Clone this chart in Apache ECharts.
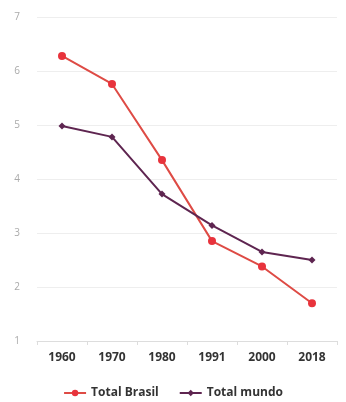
<!DOCTYPE html>
<html lang="pt">
<head>
    <meta charset="UTF-8">
    <title>Taxa de fecundidade</title>
    <script src="https://cdn.jsdelivr.net/npm/echarts@6/dist/echarts.min.js"></script>
    <style>
        html, body { margin: 0; padding: 0; background: #fff; }
        #chart { width: 346px; height: 402px; }
    </style>
</head>
<body>
<div id="chart"></div>
<script>
    const anos = ['1960', '1970', '1980', '1991', '2000', '2018'];
    const totalBrasil = [6.28, 5.76, 4.35, 2.85, 2.38, 1.7];
    const totalMundo = [4.98, 4.78, 3.72, 3.14, 2.65, 2.5];

    const chart = echarts.init(document.getElementById('chart'));

    chart.setOption({
        animation: false,
        textStyle: { fontFamily: 'Open Sans' },
        grid: { left: 37, right: 9, top: 17, bottom: 61 },
        legend: {
            top: 387,
            left: 'center',
            padding: 0,
            itemWidth: 22,
            itemHeight: 8,
            itemGap: 20,
            textStyle: { fontSize: 12, fontWeight: 'bold', color: '#333' },
            data: ['Total Brasil', 'Total mundo']
        },
        xAxis: {
            type: 'category',
            data: anos,
            boundaryGap: true,
            axisLine: { lineStyle: { color: '#ddd' } },
            axisTick: { show: true, length: 4, lineStyle: { color: '#ddd' } },
            axisLabel: { fontSize: 12, fontWeight: 'bold', color: '#333', margin: 11 }
        },
        yAxis: {
            type: 'value',
            min: 1,
            max: 7,
            interval: 1,
            axisLine: { show: false },
            axisTick: { show: false },
            axisLabel: { fontSize: 10, color: '#aaa', margin: 17 },
            splitLine: { lineStyle: { color: '#eee' } }
        },
        series: [
            {
                name: 'Total Brasil',
                type: 'line',
                data: totalBrasil,
                symbol: 'circle',
                symbolSize: 8,
                color: '#e8333c',
                lineStyle: { width: 2, color: '#de4b45' },
                itemStyle: { color: '#e8333c' }
            },
            {
                name: 'Total mundo',
                type: 'line',
                data: totalMundo,
                symbol: 'diamond',
                symbolSize: 7,
                color: '#5e2550',
                lineStyle: { width: 2, color: '#5e2550' },
                itemStyle: { color: '#5e2550' }
            }
        ]
    });
</script>
</body>
</html>
